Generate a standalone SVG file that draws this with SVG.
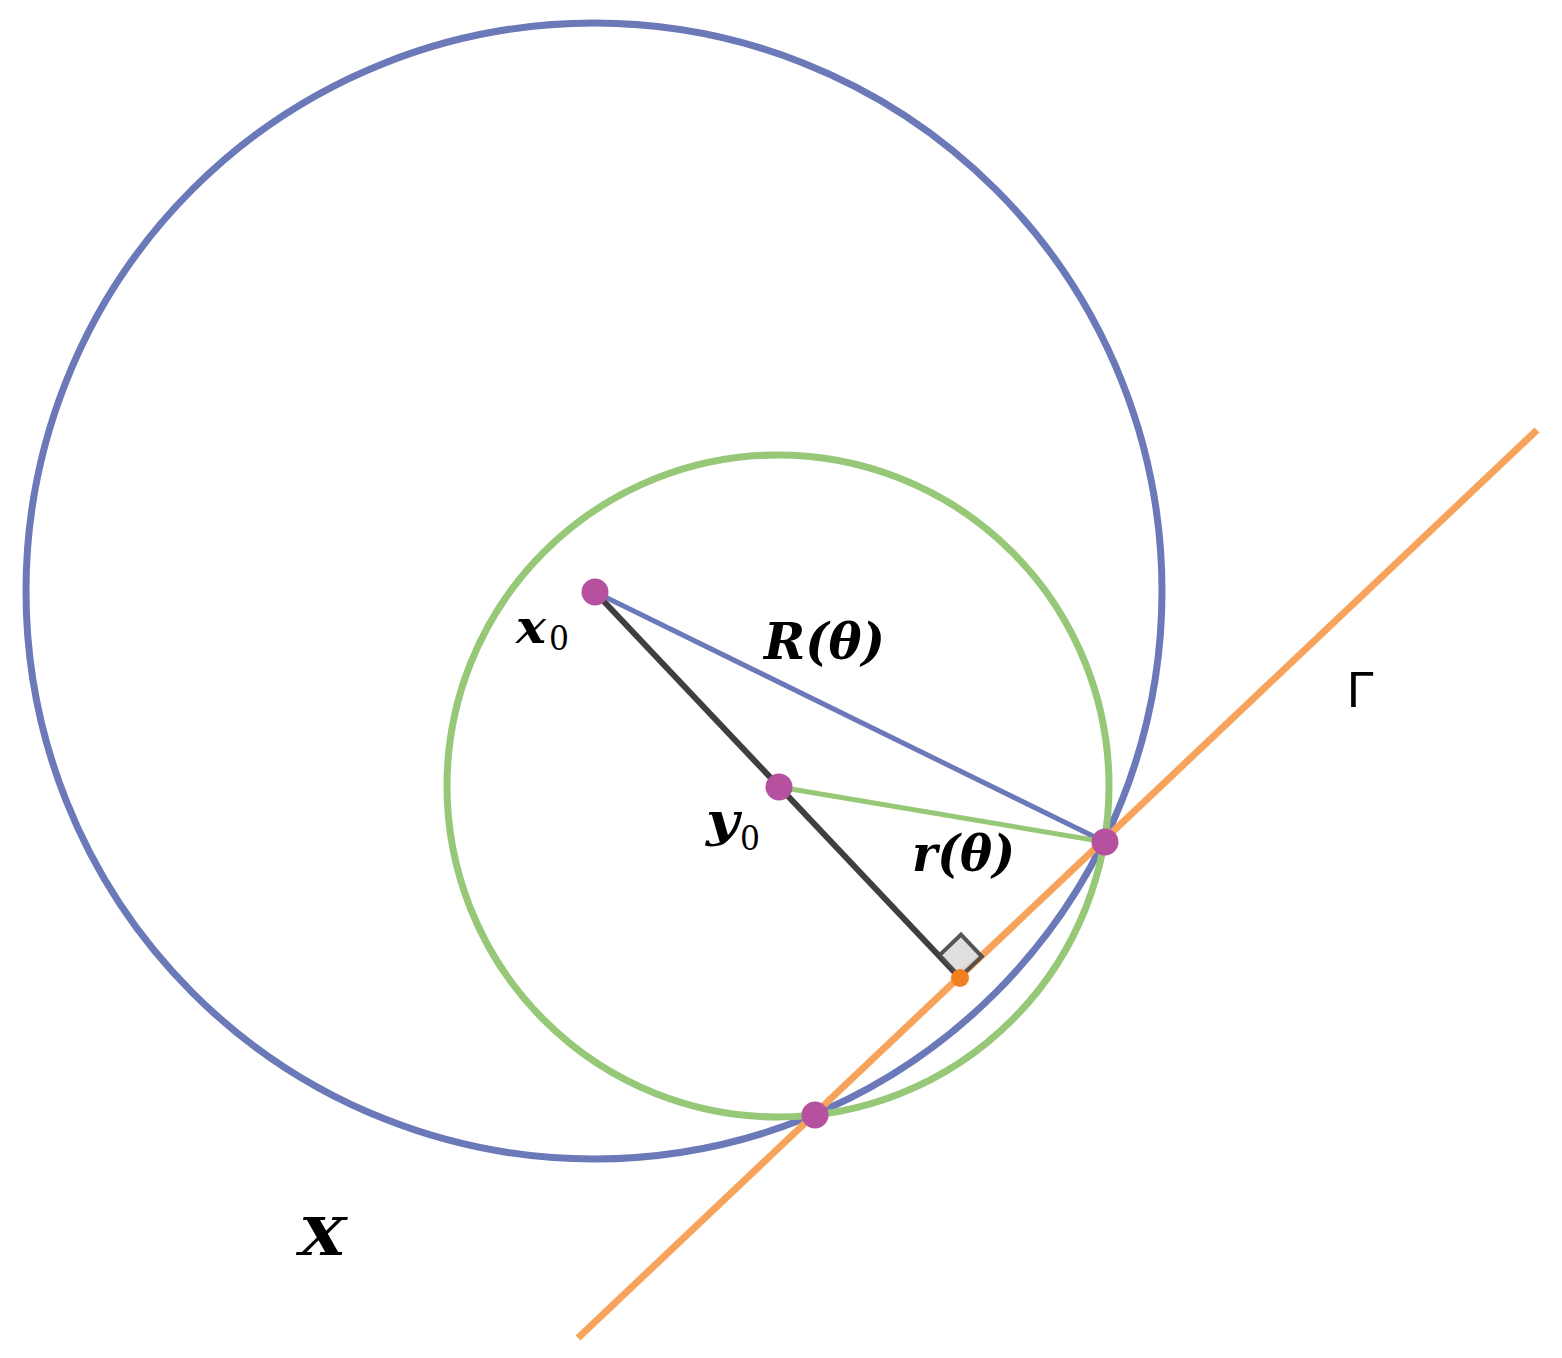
<svg xmlns="http://www.w3.org/2000/svg" width="1562" height="1358" viewBox="0 0 1562 1358">
<style>
.circ{fill:none;stroke-width:7}
.pt{fill:#b5519e}
.m{font-family:"DejaVu Serif","Liberation Serif",serif;font-style:italic;font-weight:bold;fill:#000}
.sub{font-family:"DejaVu Serif","Liberation Serif",serif;font-weight:normal;font-style:normal;fill:#000}
</style>
<rect width="1562" height="1358" fill="#fff"/>
<g id="circle-X"><circle class="circ" cx="594" cy="591" r="568" stroke="#6b79b9"/></g>
<g id="circle-green"><circle class="circ" cx="778" cy="786" r="331" stroke="#96c878"/></g>
<g id="connectors">
<line x1="595" y1="592" x2="960" y2="978" stroke="#3f3f3f" stroke-width="6"/>
<line x1="595" y1="592" x2="1105" y2="842" stroke="#6b79b9" stroke-width="5"/>
<line x1="779" y1="787" x2="1105" y2="842" stroke="#96c878" stroke-width="5"/>
<line x1="578" y1="1338" x2="1537" y2="430" stroke="#f7a35c" stroke-width="7"/>
</g>
<g id="right-angle"><polygon points="960,977 939.4,955.2 961,934.6 981.8,956.4" fill="#d9d9d9" fill-opacity="0.85" stroke="#444" stroke-width="4" stroke-opacity="0.9"/></g>
<g id="pt-x0"><circle class="pt" cx="595" cy="592" r="13.5"/></g>
<g id="pt-y0"><circle class="pt" cx="779" cy="787" r="13.5"/></g>
<g id="pt-a"><circle class="pt" cx="1105" cy="842" r="13.5"/></g>
<g id="pt-b"><circle class="pt" cx="815" cy="1115" r="13.5"/></g>
<g id="pt-foot"><circle cx="960" cy="978" r="9" fill="#f07f1f"/></g>
<g id="labels">
<text class="m" x="516" y="643" font-size="46" textLength="30" lengthAdjust="spacingAndGlyphs">x</text>
<text class="sub" x="549" y="650" font-size="34" textLength="20" lengthAdjust="spacingAndGlyphs">0</text>
<text class="m" x="764" y="659" font-size="50" textLength="121" lengthAdjust="spacingAndGlyphs">R(θ)</text>
<text class="m" x="706" y="836" font-size="46" textLength="33" lengthAdjust="spacingAndGlyphs">y</text>
<text class="sub" x="740" y="850" font-size="34" textLength="20" lengthAdjust="spacingAndGlyphs">0</text>
<text class="m" x="912" y="871" font-size="50" textLength="103" lengthAdjust="spacingAndGlyphs">r(θ)</text>
<text x="1347" y="707" font-family="'Liberation Sans','DejaVu Sans',sans-serif" font-size="50" fill="#000">Γ</text>
<text class="m" x="299" y="1255" font-size="52" textLength="47" lengthAdjust="spacingAndGlyphs">X</text>
</g>
</svg>
